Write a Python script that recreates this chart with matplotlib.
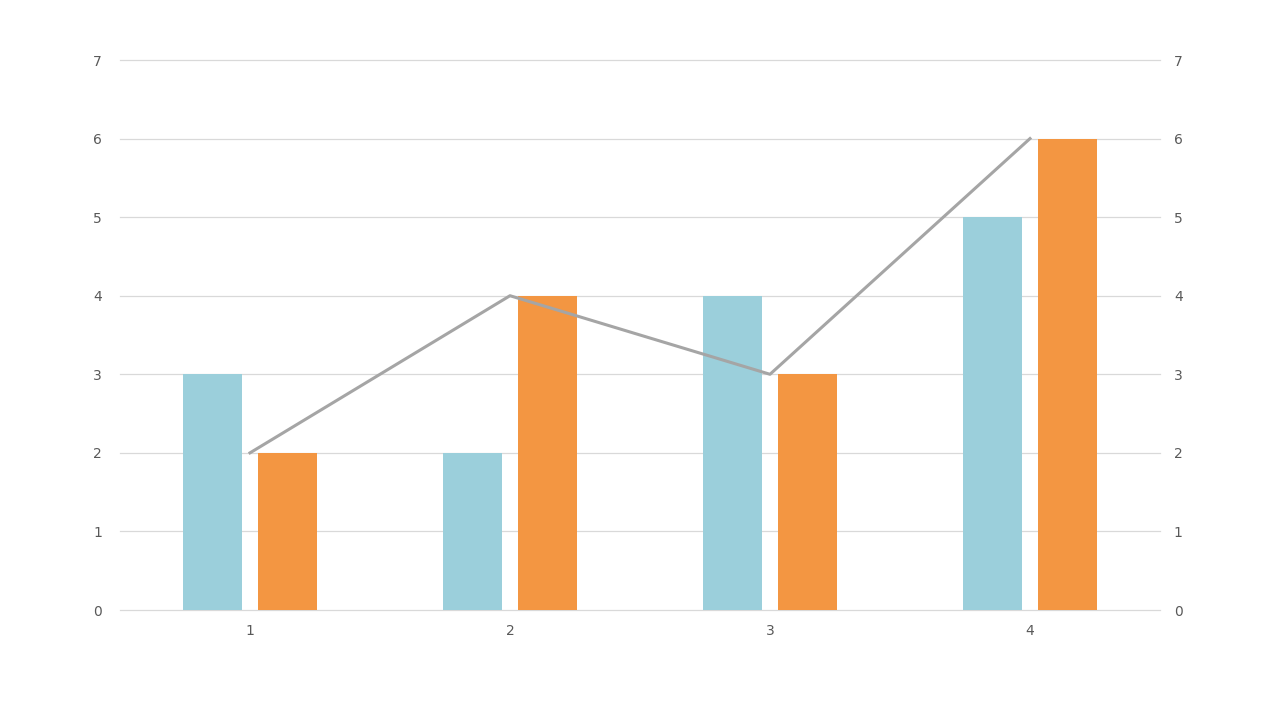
import matplotlib.pyplot as plt
import numpy as np

categories = ["1", "2", "3", "4"]
series_blue = [3, 2, 4, 5]
series_orange = [2, 4, 3, 6]
series_line = [2, 4, 3, 6]
y_ticks = [0, 1, 2, 3, 4, 5, 6, 7]

blue = "#9BCFDB"
orange = "#F39642"
gray = "#A5A5A5"
text_color = "#595959"

fig = plt.figure(figsize=(12.8, 7.2), dpi=100)
ax = fig.add_axes([120 / 1280, 1 - 610 / 720, 1040 / 1280, 550 / 720])

x = np.arange(len(categories))
w = 0.227
off = 0.144
ax.bar(x - off, series_blue, width=w, color=blue, zorder=2)
ax.bar(x + off, series_orange, width=w, color=orange, zorder=2)

ax.set_xlim(-0.5, len(categories) - 0.5)
ax.set_ylim(0, 7)
ax.set_yticks(y_ticks)
ax.set_xticks(x)
ax.set_xticklabels(categories)
ax.grid(axis="y", color="#D9D9D9", linewidth=0.9, zorder=0)
for gl in ax.get_ygridlines():
    gl.set_clip_on(False)
ax.set_axisbelow(True)
for s in ax.spines.values():
    s.set_visible(False)
ax.tick_params(axis="both", length=0, labelsize=10, colors=text_color)
ax.tick_params(axis="y", pad=13)
ax.tick_params(axis="x", pad=10)

ax2 = ax.twinx()
ax2.plot(x, series_line, color=gray, linewidth=2.2, zorder=3)
ax2.set_ylim(0, 7)
ax2.set_yticks(y_ticks)
for s in ax2.spines.values():
    s.set_visible(False)
ax2.tick_params(axis="y", length=0, labelsize=10, colors=text_color, pad=10)

fig.savefig("out.png", dpi=100)
